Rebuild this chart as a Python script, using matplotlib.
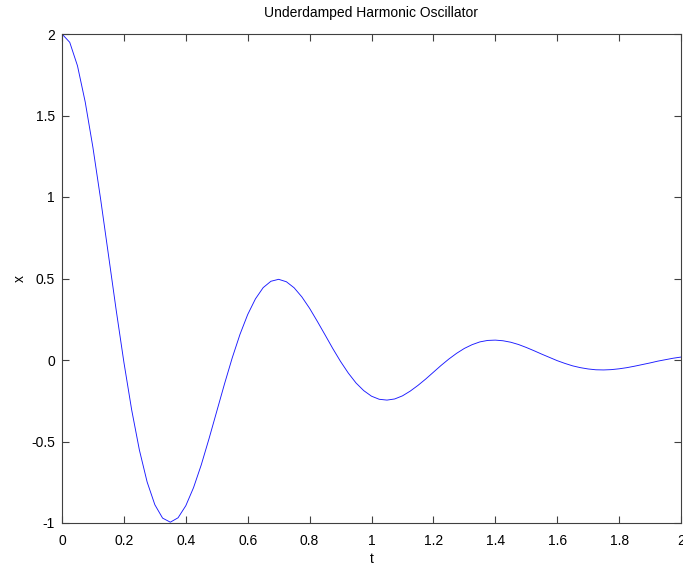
import numpy as np
import matplotlib
matplotlib.use('Agg')
import matplotlib.pyplot as plt

# displacement x(t), values
t = [0.000, 0.025, 0.050, 0.075, 0.100, 0.125, 0.150, 0.175, 0.200, 0.225,
     0.250, 0.275, 0.300, 0.325, 0.350, 0.375, 0.400, 0.425, 0.450, 0.475,
     0.500, 0.525, 0.550, 0.575, 0.600, 0.625, 0.650, 0.675, 0.700, 0.725,
     0.750, 0.775, 0.800, 0.825, 0.850, 0.875, 0.900, 0.925, 0.950, 0.975,
     1.000, 1.025, 1.050, 1.075, 1.100, 1.125, 1.150, 1.175, 1.200, 1.225,
     1.250, 1.275, 1.300, 1.325, 1.350, 1.375, 1.400, 1.425, 1.450, 1.475,
     1.500, 1.525, 1.550, 1.575, 1.600, 1.625, 1.650, 1.675, 1.700, 1.725,
     1.750, 1.775, 1.800, 1.825, 1.850, 1.875, 1.900, 1.925, 1.950, 1.975,
     2.000]
x = [2.000, 1.949, 1.805, 1.583, 1.303, 0.984, 0.646, 0.307, -0.014, -0.305,
     -0.552, -0.748, -0.888, -0.970, -0.995, -0.968, -0.894, -0.783, -0.643, -0.483,
     -0.315, -0.147, 0.013, 0.157, 0.279, 0.375, 0.444, 0.483, 0.495, 0.480,
     0.443, 0.387, 0.317, 0.237, 0.154, 0.070, -0.009, -0.080, -0.141, -0.188,
     -0.222, -0.241, -0.246, -0.239, -0.220, -0.191, -0.156, -0.117, -0.075, -0.033,
     0.006, 0.041, 0.071, 0.094, 0.111, 0.120, 0.122, 0.118, 0.109, 0.095,
     0.077, 0.057, 0.036, 0.016, -0.004, -0.021, -0.036, -0.047, -0.055, -0.060,
     -0.061, -0.059, -0.054, -0.047, -0.038, -0.028, -0.018, -0.007, 0.002, 0.011,
     0.018]

xticks = [0, 0.2, 0.4, 0.6, 0.8, 1, 1.2, 1.4, 1.6, 1.8, 2]
yticks = [-1, -0.5, 0, 0.5, 1, 1.5, 2]

plt.rcParams['font.family'] = ['Liberation Sans', 'DejaVu Sans']
plt.rcParams['font.size'] = 10

fig = plt.figure(figsize=(6.83, 5.65), dpi=100)
ax = fig.add_axes([62 / 683, 42 / 565, 619 / 683, 489 / 565])

ax.plot(t, x, color='#1a1aff', linewidth=0.65)

ax.set_xlim(0, 2)
ax.set_ylim(-1, 2)
ax.set_xticks(xticks)
ax.set_xticklabels(['%g' % v for v in xticks])
ax.set_yticks(yticks)
ax.set_yticklabels(['%g' % v for v in yticks])
ax.tick_params(direction='in', length=5, width=0.8, color='#404040',
               top=True, right=True, labelcolor='black')
ax.tick_params(axis='x', pad=8)
ax.tick_params(axis='y', pad=5)
for s in ax.spines.values():
    s.set_color('#404040')
    s.set_linewidth(0.8)

ax.set_title('Underdamped Harmonic Oscillator', fontsize=10, pad=12)
ax.set_xlabel('t', labelpad=3)
ax.set_ylabel('x', labelpad=3)

fig.savefig('out.png', dpi=100)
